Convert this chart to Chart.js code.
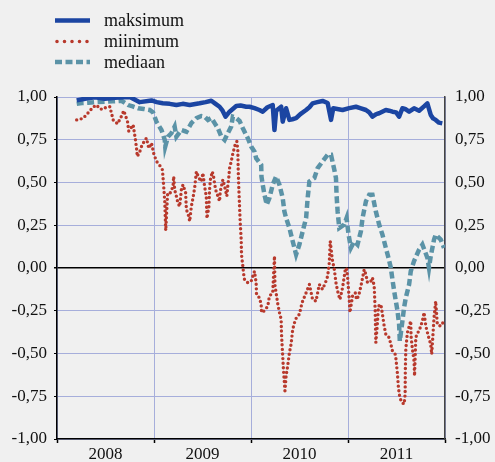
<!DOCTYPE html>
<html><head><meta charset="utf-8">
<script src="https://cdn.jsdelivr.net/npm/chart.js@4.4.1/dist/chart.umd.min.js"></script>
<style>html,body{margin:0;padding:0;background:#f0f0f0;}canvas{display:block;}</style>
</head><body>
<canvas id="c" width="495" height="462"></canvas>
<script>
const seriesNames = ['maksimum', 'miinimum', 'mediaan'];
const yearLabels = ['2008', '2009', '2010', '2011'];
const yTickValues = [-1, -0.75, -0.5, -0.25, 0, 0.25, 0.5, 0.75, 1];

const maxDates = [2008.203,2008.288,2008.391,2008.494,2008.596,2008.751,2008.853,2008.974,2009.028,2009.090,2009.162,2009.231,2009.296,2009.368,2009.470,2009.532,2009.591,2009.635,2009.676,2009.707,2009.738,2009.779,2009.848,2009.892,2009.951,2009.985,2010.036,2010.087,2010.121,2010.170,2010.224,2010.242,2010.259,2010.311,2010.327,2010.362,2010.396,2010.427,2010.465,2010.509,2010.568,2010.602,2010.635,2010.684,2010.738,2010.790,2010.825,2010.848,2010.889,2010.944,2011.013,2011.082,2011.126,2011.185,2011.219,2011.252,2011.291,2011.321,2011.390,2011.424,2011.458,2011.496,2011.527,2011.561,2011.589,2011.630,2011.681,2011.733,2011.784,2011.818,2011.853,2011.877,2011.904,2011.938,2011.972];
const maxValues = [0.98,0.99,0.998,0.99,0.995,1.0,0.97,0.98,0.97,0.963,0.96,0.953,0.96,0.953,0.963,0.97,0.978,0.96,0.943,0.92,0.885,0.914,0.947,0.95,0.943,0.943,0.935,0.924,0.914,0.94,0.953,0.807,0.92,0.943,0.856,0.934,0.866,0.87,0.876,0.9,0.924,0.94,0.963,0.97,0.977,0.965,0.866,0.934,0.93,0.924,0.935,0.943,0.935,0.924,0.91,0.885,0.9,0.905,0.924,0.92,0.914,0.91,0.885,0.934,0.93,0.914,0.934,0.92,0.945,0.963,0.895,0.875,0.866,0.85,0.846];

const minDates = [2008.203,2008.237,2008.270,2008.332,2008.370,2008.408,2008.442,2008.476,2008.504,2008.545,2008.579,2008.624,2008.658,2008.689,2008.727,2008.740,2008.785,2008.809,2008.820,2008.828,2008.853,2008.877,2008.922,2008.946,2008.974,2009.001,2009.031,2009.059,2009.087,2009.093,2009.100,2009.111,2009.116,2009.121,2009.141,2009.169,2009.196,2009.203,2009.213,2009.231,2009.247,2009.265,2009.282,2009.299,2009.326,2009.334,2009.350,2009.368,2009.385,2009.402,2009.419,2009.437,2009.463,2009.488,2009.504,2009.522,2009.539,2009.546,2009.566,2009.573,2009.581,2009.601,2009.614,2009.635,2009.659,2009.676,2009.683,2009.710,2009.728,2009.751,2009.761,2009.772,2009.779,2009.796,2009.813,2009.841,2009.854,2009.864,2009.866,2009.869,2009.875,2009.882,2009.889,2009.899,2009.902,2009.916,2009.923,2009.933,2009.967,2010.002,2010.036,2010.053,2010.057,2010.087,2010.105,2010.108,2010.139,2010.173,2010.190,2010.224,2010.242,2010.247,2010.276,2010.293,2010.311,2010.314,2010.321,2010.327,2010.334,2010.344,2010.350,2010.362,2010.378,2010.396,2010.413,2010.430,2010.458,2010.499,2010.526,2010.568,2010.602,2010.635,2010.670,2010.687,2010.704,2010.738,2010.773,2010.790,2010.807,2010.817,2010.838,2010.859,2010.876,2010.893,2010.917,2010.944,2010.972,2010.985,2010.995,2011.013,2011.020,2011.047,2011.075,2011.088,2011.109,2011.133,2011.167,2011.185,2011.201,2011.236,2011.252,2011.270,2011.280,2011.287,2011.301,2011.314,2011.339,2011.355,2011.373,2011.390,2011.424,2011.442,2011.458,2011.486,2011.493,2011.510,2011.520,2011.534,2011.555,2011.578,2011.589,2011.591,2011.596,2011.612,2011.647,2011.650,2011.664,2011.681,2011.686,2011.699,2011.715,2011.733,2011.767,2011.784,2011.802,2011.828,2011.853,2011.863,2011.887,2011.904,2011.921,2011.956,2011.990];
const minValues = [0.866,0.87,0.876,0.914,0.94,0.953,0.93,0.928,0.94,0.943,0.866,0.843,0.88,0.92,0.856,0.80,0.837,0.749,0.70,0.652,0.68,0.72,0.76,0.70,0.73,0.66,0.62,0.60,0.574,0.53,0.477,0.39,0.30,0.22,0.44,0.44,0.477,0.535,0.458,0.419,0.38,0.36,0.458,0.487,0.44,0.34,0.32,0.273,0.36,0.41,0.468,0.564,0.526,0.506,0.555,0.477,0.419,0.29,0.36,0.458,0.516,0.564,0.535,0.458,0.42,0.39,0.448,0.516,0.477,0.42,0.48,0.535,0.584,0.623,0.67,0.73,0.74,0.69,0.633,0.555,0.458,0.36,0.264,0.166,0.079,0.01,-0.03,-0.067,-0.086,-0.077,-0.019,-0.086,-0.155,-0.174,-0.213,-0.26,-0.25,-0.223,-0.164,-0.145,0.069,-0.10,-0.21,-0.26,-0.30,-0.378,-0.456,-0.514,-0.59,-0.67,-0.718,-0.63,-0.573,-0.495,-0.446,-0.359,-0.30,-0.27,-0.203,-0.145,-0.096,-0.184,-0.194,-0.145,-0.096,-0.125,-0.077,-0.048,0.03,0.156,0.05,-0.009,-0.086,-0.135,-0.184,-0.115,-0.009,0.0,-0.048,-0.184,-0.26,-0.164,-0.145,-0.184,-0.164,-0.106,-0.009,-0.038,-0.086,-0.077,-0.057,-0.106,-0.242,-0.436,-0.34,-0.223,-0.213,-0.27,-0.339,-0.388,-0.407,-0.446,-0.485,-0.504,-0.524,-0.62,-0.70,-0.757,-0.786,-0.796,-0.74,-0.60,-0.475,-0.378,-0.31,-0.398,-0.475,-0.543,-0.63,-0.407,-0.38,-0.369,-0.31,-0.26,-0.339,-0.398,-0.446,-0.504,-0.29,-0.194,-0.33,-0.34,-0.31];

const medDates = [2008.203,2008.257,2008.322,2008.391,2008.494,2008.576,2008.665,2008.733,2008.781,2008.836,2008.895,2008.956,2008.990,2009.025,2009.077,2009.111,2009.116,2009.144,2009.179,2009.213,2009.231,2009.282,2009.334,2009.385,2009.437,2009.488,2009.522,2009.556,2009.591,2009.625,2009.659,2009.694,2009.728,2009.761,2009.796,2009.813,2009.841,2009.882,2009.916,2009.967,2010.002,2010.036,2010.053,2010.105,2010.108,2010.121,2010.139,2010.162,2010.190,2010.224,2010.259,2010.293,2010.327,2010.344,2010.362,2010.396,2010.430,2010.465,2010.499,2010.533,2010.568,2010.584,2010.602,2010.653,2010.687,2010.738,2010.790,2010.825,2010.859,2010.876,2010.882,2010.893,2010.910,2010.961,2010.985,2011.006,2011.030,2011.064,2011.098,2011.133,2011.150,2011.185,2011.219,2011.252,2011.287,2011.321,2011.355,2011.390,2011.417,2011.442,2011.458,2011.476,2011.493,2011.510,2011.527,2011.534,2011.561,2011.578,2011.596,2011.630,2011.647,2011.681,2011.733,2011.767,2011.818,2011.835,2011.853,2011.887,2011.904,2011.956,2011.990];
const medValues = [0.96,0.965,0.967,0.97,0.973,0.975,0.978,0.953,0.945,0.934,0.93,0.924,0.91,0.856,0.807,0.749,0.71,0.768,0.788,0.827,0.768,0.807,0.797,0.847,0.876,0.889,0.885,0.866,0.878,0.847,0.817,0.768,0.749,0.788,0.827,0.885,0.88,0.86,0.817,0.759,0.71,0.681,0.642,0.603,0.535,0.487,0.428,0.37,0.409,0.487,0.535,0.487,0.409,0.331,0.292,0.234,0.156,0.079,0.137,0.215,0.292,0.409,0.506,0.526,0.584,0.623,0.662,0.662,0.574,0.526,0.428,0.331,0.234,0.254,0.292,0.195,0.118,0.156,0.137,0.215,0.292,0.39,0.428,0.428,0.331,0.254,0.195,0.118,0.06,0.0,-0.067,-0.135,-0.194,-0.25,-0.33,-0.427,-0.31,-0.232,-0.174,-0.096,-0.019,0.04,0.108,0.137,0.06,0.0,0.069,0.166,0.195,0.166,0.118];

const BLUE = '#1b45a2';
const RED = '#b8392c';
const TEAL = '#5b93a7';
const LAV = '#a6aedb';
const FONT = 'Liberation Serif';

const toXY = (d, v) => d.map((t, i) => ({x: t, y: v[i]}));
const fmt = v => v.toFixed(2).replace('.', ',');
const xTickValues = [];
yearLabels.forEach(y => { xTickValues.push(+y, +y + 0.5); });
xTickValues.push(+yearLabels[yearLabels.length - 1] + 1);

const legendPlugin = {
  id: 'customLegend',
  afterDraw(chart) {
    const c = chart.ctx;
    const rows = [
      {y: 20.5, color: BLUE, width: 4.5, dash: [], cap: 'butt', x0: 55, x1: 90},
      {y: 41.5, color: RED, width: 3.6, dash: [0, 7.5], cap: 'round', x0: 57, x1: 90},
      {y: 62, color: TEAL, width: 4.5, dash: [7, 3.5], cap: 'butt', x0: 55, x1: 90}
    ];
    c.save();
    rows.forEach((r, i) => {
      c.beginPath();
      c.strokeStyle = r.color;
      c.lineWidth = r.width;
      c.setLineDash(r.dash);
      c.lineCap = r.cap;
      c.moveTo(r.x0, r.y);
      c.lineTo(r.x1, r.y);
      c.stroke();
      c.setLineDash([]);
      c.fillStyle = '#111';
      c.font = '18px "' + FONT + '"';
      c.textBaseline = 'alphabetic';
      c.textAlign = 'left';
      c.fillText(seriesNames[i], 104, r.y + 5.5);
    });
    c.restore();
  }
};

const tickFont = {family: FONT, size: 17};

new Chart(document.getElementById('c').getContext('2d'), {
  type: 'line',
  data: {
    datasets: [
      {label: seriesNames[0], data: toXY(maxDates, maxValues), borderColor: BLUE, borderWidth: 4.5, pointRadius: 0, tension: 0, order: 0, borderJoinStyle: 'round'},
      {label: seriesNames[1], data: toXY(minDates, minValues), borderColor: RED, borderWidth: 3.4, borderDash: [0, 4.6], borderCapStyle: 'round', pointRadius: 0, tension: 0, order: 2},
      {label: seriesNames[2], data: toXY(medDates, medValues), borderColor: TEAL, borderWidth: 4.5, borderDash: [7, 3.5], pointRadius: 0, tension: 0, order: 1}
    ]
  },
  options: {
    responsive: false,
    animation: false,
    devicePixelRatio: 1,
    layout: {padding: {top: 97, left: 0, right: 0, bottom: 0}},
    plugins: {legend: {display: false}, tooltip: {enabled: false}},
    scales: {
      x: {
        type: 'linear', position: 'bottom', min: 2008, max: 2012,
        afterBuildTicks: s => { s.ticks = xTickValues.map(v => ({value: v})); },
        afterFit: s => { s.height = 23; },
        ticks: {autoSkip: false, maxRotation: 0, minRotation: 0, padding: 1, color: '#111', font: tickFont,
          callback: v => Number.isInteger(v) ? '' : String(Math.floor(v))},
        grid: {
          color: ctx => (ctx.tick && Number.isInteger(ctx.tick.value)) ? LAV : 'rgba(0,0,0,0)',
          lineWidth: 1,
          tickLength: 4,
          tickWidth: 1.5,
          tickColor: ctx => (ctx.tick && Number.isInteger(ctx.tick.value)) ? '#000' : 'rgba(0,0,0,0)'
        },
        border: {color: '#000', width: 1.5}
      },
      y: {
        type: 'linear', position: 'left', min: -1, max: 1,
        afterBuildTicks: s => { s.ticks = yTickValues.map(v => ({value: v})); },
        afterFit: s => { s.width = 57; },
        ticks: {padding: 7, color: '#111', font: tickFont, callback: v => fmt(v)},
        grid: {
          color: ctx => (ctx.tick && ctx.tick.value === 0) ? '#000' : LAV,
          lineWidth: ctx => (ctx.tick && ctx.tick.value === 0) ? 1.6 : 1,
          tickLength: 3,
          tickColor: '#000'
        },
        border: {color: '#000', width: 1.5}
      },
      y2: {
        type: 'linear', position: 'right', min: -1, max: 1,
        afterBuildTicks: s => { s.ticks = yTickValues.map(v => ({value: v})); },
        afterFit: s => { s.width = 50; },
        ticks: {padding: 6, color: '#111', font: tickFont, callback: v => fmt(v)},
        grid: {drawOnChartArea: false, tickLength: 4, tickColor: 'rgba(0,0,0,0)'},
        border: {color: '#444', width: 1.5}
      }
    }
  },
  plugins: [legendPlugin]
});
</script>
</body></html>
